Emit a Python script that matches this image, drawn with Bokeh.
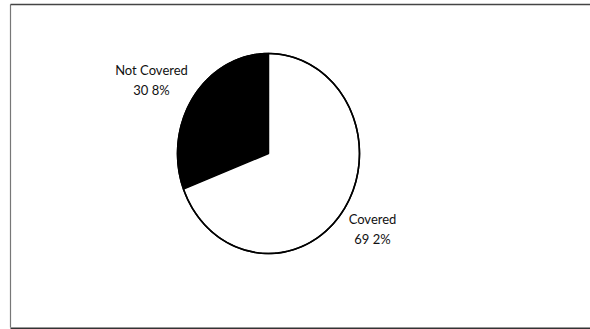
import numpy as np
from bokeh.plotting import figure
from bokeh.models import Range1d
from bokeh.core.properties import value
from bokeh.embed import file_html
from bokeh.resources import INLINE

# Data
categories = ["Not Covered", "Covered"]
shares = [30.8, 69.2]
share_labels = ["30 8%", "69 2%"]
colors = ["#000000", "#ffffff"]

W, H = 590, 329
p = figure(width=W, height=H, output_backend="svg", toolbar_location=None,
           x_range=Range1d(0, W), y_range=Range1d(0, H),
           min_border=0, outline_line_color=None)
p.axis.visible = False
p.grid.visible = False
p.background_fill_color = "white"
p.border_fill_color = "white"

# frame (decoration)
p.line([10, 10], [H - 4, H - 327], line_color="#777777", line_width=1.2)
p.line([10, W], [H - 4, H - 4], line_color="#444444", line_width=1.6)
p.line([10, W], [H - 328, H - 328], line_color="#333333", line_width=2)

# pie (slightly elliptical as in the scan)
cx, cy = 268, H - 153
rx, ry = 91, 100
start = np.pi / 2
xs, ys = [], []
for s in shares:
    ang = s / 100.0 * 2 * np.pi
    t = np.linspace(start, start + ang, 120)
    xs.append([cx] + list(cx + rx * np.cos(t)) + [cx])
    ys.append([cy] + list(cy + ry * np.sin(t)) + [cy])
    start += ang
p.patches(xs, ys, fill_color=colors, line_color="black", line_width=1.5)
p.ellipse(x=[cx], y=[cy], width=[2 * rx], height=[2 * ry],
          fill_color=None, line_color="black", line_width=1.6)

font = value("Lato")
lx = [151, 372]
ly1 = [H - 69, H - 218]
ly2 = [H - 89, H - 238]
p.text(x=lx, y=ly1, text=categories, text_font=font, text_font_size="13px",
       text_align="center", text_baseline="middle", text_color="#111111")
p.text(x=lx, y=ly2, text=share_labels, text_font=font, text_font_size="13px",
       text_align="center", text_baseline="middle", text_color="#111111")

open("out.html", "w").write(file_html(p, INLINE))
